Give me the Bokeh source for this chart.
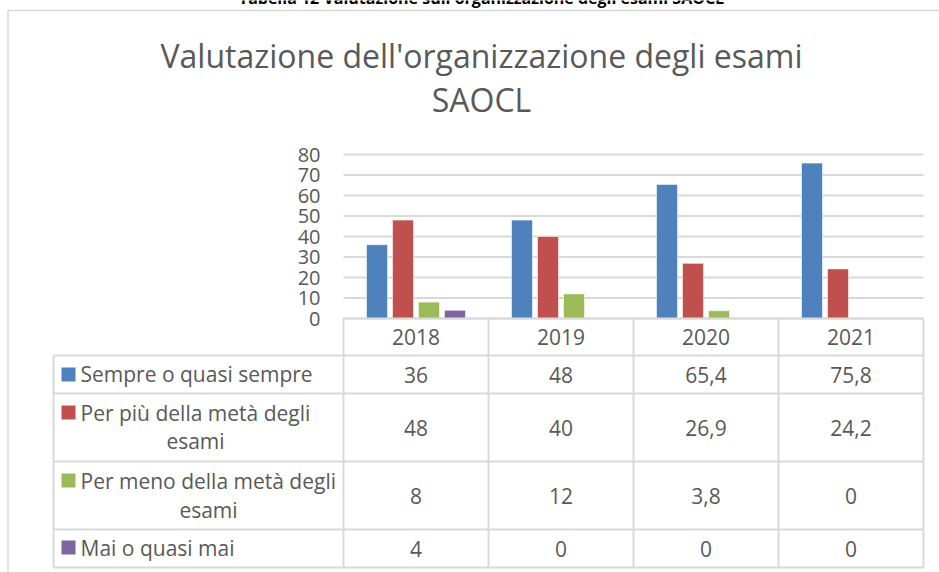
from bokeh.plotting import figure
from bokeh.models import Range1d
from bokeh.core.properties import value
from bokeh.embed import file_html
from bokeh.resources import INLINE

# ---------------- data ----------------
caption = "Tabella 12 Valutazione sull'organizzazione degli esami SAOCL"
title_lines = ["Valutazione dell'organizzazione degli esami", "SAOCL"]
years = ["2018", "2019", "2020", "2021"]
series_names = [
    ["Sempre o quasi sempre"],
    ["Per più della metà degli", "esami"],
    ["Per meno della metà degli", "esami"],
    ["Mai o quasi mai"],
]
sempre = [36, 48, 65.4, 75.8]
per_piu = [48, 40, 26.9, 24.2]
per_meno = [8, 12, 3.8, 0]
mai = [4, 0, 0, 0]
y_ticks = [0, 10, 20, 30, 40, 50, 60, 70, 80]
colors = ["#4F81BD", "#C0504D", "#9BBB59", "#8064A2"]
series_values = [sempre, per_piu, per_meno, mai]

# ---------------- layout (pixels) ----------------
W, H = 939, 572
PLOT_L, PLOT_R = 343, 923
Y0_PX, YTOP_PX = 318, 154
Y_MAX = 80
COL_W = (PLOT_R - PLOT_L) / len(years)
PPU = (Y0_PX - YTOP_PX) / Y_MAX
TEXT = "#595959"
LINE = "#D9D9D9"
FONT = value("Open Sans")

# negative right/bottom margin keeps the layout box inside the 8px page margin
p = figure(width=W, height=H, output_backend="svg", toolbar_location=None,
           x_range=Range1d(0, W), y_range=Range1d(H, 0),
           x_axis_location=None, y_axis_location=None,
           min_border=0, outline_line_color=None,
           background_fill_color="white", border_fill_color="white",
           margin=(0, -16, -16, 0))
p.xgrid.visible = False
p.ygrid.visible = False
p.extra_x_ranges = {"cat": Range1d(-PLOT_L / COL_W, (W - PLOT_L) / COL_W)}
p.extra_y_ranges = {"val": Range1d((Y0_PX - H) / PPU, Y0_PX / PPU)}

def fmt(v):
    return f"{v:g}".replace(".", ",")

# outer chart border (left + top)
p.segment(x0=[7.5, 7.5], y0=[10, 10], x1=[7.5, W + 20], y1=[H + 20, 10],
          line_color=LINE, line_width=1.5)

# caption (cut off at the top, as in the reference)
p.text(x=[481], y=[-3], text=[caption], text_font=FONT,
       text_font_style="bold", text_font_size="16px", text_color="black",
       text_align="center", text_baseline="alphabetic")

# chart title
p.text(x=[481, 481], y=[55, 99], text=title_lines, text_font=FONT,
       text_font_size="32px", text_color=TEXT,
       text_align="center", text_baseline="middle")

# gridlines
p.segment(x0=[0] * len(y_ticks), x1=[len(years)] * len(y_ticks),
          y0=y_ticks, y1=y_ticks, line_color=LINE, line_width=1.8,
          x_range_name="cat", y_range_name="val")

# y tick labels
p.text(x=[320] * len(y_ticks), y=y_ticks, text=[str(t) for t in y_ticks],
       y_range_name="val", text_font=FONT, text_font_size="20px",
       text_color=TEXT, text_align="right", text_baseline="middle")

# bars
n = len(series_values)
STEP = 26 / COL_W
BAR_W = 21 / COL_W
for j, vals in enumerate(series_values):
    xs = [i + 0.5 + (j - (n - 1) / 2) * STEP for i, v in enumerate(vals) if v > 0]
    tops = [v for v in vals if v > 0]
    p.vbar(x=xs, top=tops, bottom=0, width=BAR_W, fill_color=colors[j],
           line_color="white", line_width=0.8, line_alpha=0.7,
           x_range_name="cat", y_range_name="val")

# data table
TABLE_L = 53
row_edges = [355, 393, 461, 529, 567]
header_y = (Y0_PX + row_edges[0]) / 2
p.segment(x0=[PLOT_L] + [TABLE_L] * len(row_edges), x1=[PLOT_R] * (len(row_edges) + 1),
          y0=[Y0_PX] + row_edges, y1=[Y0_PX] + row_edges,
          line_color=LINE, line_width=2)
p.segment(x0=[TABLE_L], x1=[TABLE_L], y0=[row_edges[0]], y1=[row_edges[-1]],
          line_color=LINE, line_width=2)
p.segment(x0=list(range(len(years) + 1)), x1=list(range(len(years) + 1)),
          y0=[Y0_PX] * (len(years) + 1), y1=[row_edges[-1]] * (len(years) + 1),
          x_range_name="cat", line_color=LINE, line_width=2)

# header years
p.text(x=[i + 0.5 for i in range(len(years))], y=[header_y] * len(years), text=years,
       x_range_name="cat", text_font=FONT, text_font_size="21px", text_color=TEXT,
       text_align="center", text_baseline="middle")

# values
row_centers = [(row_edges[k] + row_edges[k + 1]) / 2 for k in range(n)]
vx, vy, vt = [], [], []
for j, vals in enumerate(series_values):
    for i, v in enumerate(vals):
        vx.append(i + 0.5)
        vy.append(row_centers[j])
        vt.append(fmt(v))
p.text(x=vx, y=vy, text=vt, x_range_name="cat", text_font=FONT,
       text_font_size="21px", text_color=TEXT, text_align="center", text_baseline="middle")

# legend keys and row labels
key_y = [374, 412, 480, 547]
p.rect(x=[68] * n, y=key_y, width=14, height=14, fill_color=colors, line_color=None)
line_y = [[373], [412, 440], [480, 509], [547]]
second_cx = [None, 195, 208, None]
lx, ly, lt = [], [], []
cx, cy, ct = [], [], []
for j, lines in enumerate(series_names):
    lx.append(80); ly.append(line_y[j][0]); lt.append(lines[0])
    if len(lines) > 1:
        cx.append(second_cx[j]); cy.append(line_y[j][1]); ct.append(lines[1])
p.text(x=lx, y=ly, text=lt, text_font=FONT, text_font_size="21px", text_color=TEXT,
       text_align="left", text_baseline="middle")
p.text(x=cx, y=cy, text=ct, text_font=FONT, text_font_size="21px", text_color=TEXT,
       text_align="center", text_baseline="middle")

open("out.html", "w").write(file_html(p, INLINE))
